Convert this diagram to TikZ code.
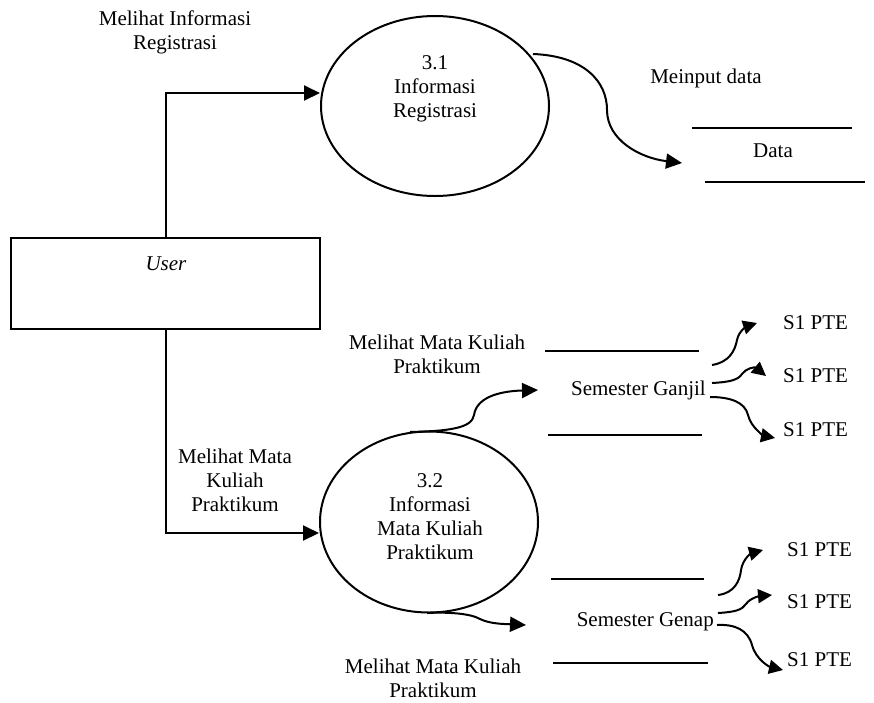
\documentclass[tikz,border=0pt]{standalone}
\usepackage{fontspec}
\setmainfont{Liberation Serif}
\usetikzlibrary{arrows.meta,shapes.geometric}
\begin{document}
\begin{tikzpicture}[x=1pt,y=-1pt,
  every node/.style={font=\fontsize{21}{24}\selectfont, align=center, inner sep=0pt},
  proc/.style={draw, ellipse, line width=2pt},
  ent/.style={draw, rectangle, line width=2pt},
  flow/.style={line width=2pt, -{Triangle[length=16pt,width=15pt]}},
  flowsm/.style={line width=2pt, -{Triangle[length=14pt,width=14pt]}},
  storeline/.style={line width=2pt}]
\useasboundingbox (0,0) rectangle (874,702);

% User entity
\node[ent, minimum width=309pt, minimum height=91pt] (user) at (165.5,283.5) {};
\node (usert) at (166,264) {\itshape User};

% Process 3.1
\node[proc, minimum width=228pt, minimum height=180pt] (p31) at (435,106) {};
\node (p31t) at (435,89) {3.1\\Informasi\\Registrasi};

% Process 3.2
\node[proc, minimum width=218pt, minimum height=181pt] (p32) at (429,522) {};
\node (p32t) at (430,517) {3.2\\Informasi\\Mata Kuliah\\Praktikum};

% Labels
\node (l1) at (175,32) {Melihat Informasi\\Registrasi};
\node (l2) at (706,78) {Meinput data};
\node (l3) at (235,480) {Melihat Mata\\Kuliah\\Praktikum};
\node (l4) at (437,354) {Melihat Mata Kuliah\\Praktikum};
\node (l5) at (433,678) {Melihat Mata Kuliah\\Praktikum};

% Data store
\draw[storeline] (692,128) -- (852,128);
\draw[storeline] (705,182) -- (865,182);
\node (data) at (773,151) {Data};

% Semester Ganjil store
\draw[storeline] (545,351) -- (699,351);
\draw[storeline] (548,435) -- (702,435);
\node[anchor=east] (ganjil) at (706,390) {Semester Ganjil};

% Semester Genap store
\draw[storeline] (551,579) -- (704,579);
\draw[storeline] (553,663) -- (708,663);
\node[anchor=east] (genap) at (714,622) {Semester Genap};

% S1 PTE labels
\node[anchor=west] (g1) at (783,323) {S1 PTE};
\node[anchor=west] (g2) at (783,376) {S1 PTE};
\node[anchor=west] (g3) at (783,430) {S1 PTE};
\node[anchor=west] (n1) at (787,550) {S1 PTE};
\node[anchor=west] (n2) at (787,602) {S1 PTE};
\node[anchor=west] (n3) at (787,660) {S1 PTE};

% User -> 3.1
\draw[flow] (user.north) |- (p31.west |- 0,93);
% User -> 3.2
\draw[flow] (user.south) |- (p32.west |- 0,533);

% 3.1 -> Data
\coordinate (s31) at (533,54);
\coordinate (e31) at (682,163);
\draw[flow] (s31) .. controls (585,56) and (607,82) .. (607,110)
  .. controls (607,140) and (640,158) .. (e31);

% 3.2 -> Ganjil
\coordinate (s32a) at (410,432);
\coordinate (e32a) at (538,390);
\draw[flow] (s32a) .. controls (450,431) and (472,428) .. (474,415)
  .. controls (477,395) and (505,391) .. (e32a);

% 3.2 -> Genap
\coordinate (s32b) at (427,613);
\coordinate (e32b) at (526,625);
\draw[flow] (s32b) .. controls (445,612) and (470,613) .. (480,619)
  .. controls (490,624) and (505,624) .. (e32b);

% Ganjil -> S1 PTE
\coordinate (ga1) at (712,365);
\coordinate (ga2) at (712,383);
\coordinate (ga3) at (710,397);
\draw[flowsm] (ga1) .. controls (730,362) and (735,350) .. (737,340)
  .. controls (739,330) and (748,326) .. ([xshift=-26pt]g1.west);
\draw[flowsm] (ga2) .. controls (730,382) and (738,380) .. (742,374)
  .. controls (746,368) and (755,367) .. ([xshift=-17pt]g2.west);
\draw[flowsm] (ga3) .. controls (730,397) and (745,402) .. (748,415)
  .. controls (751,428) and (765,436) .. ([xshift=-8pt]g3.west |- 0,438);

% Genap -> S1 PTE
\coordinate (ge1) at (718,595);
\coordinate (ge2) at (718,613);
\coordinate (ge3) at (717,625);
\draw[flowsm] (ge1) .. controls (735,593) and (740,580) .. (741,570)
  .. controls (743,558) and (752,553) .. ([xshift=-24pt]n1.west);
\draw[flowsm] (ge2) .. controls (735,612) and (742,610) .. (746,604)
  .. controls (750,598) and (760,596) .. ([xshift=-15pt]n2.west |- 0,595);
\draw[flowsm] (ge3) .. controls (735,624) and (748,630) .. (752,645)
  .. controls (756,660) and (770,667) .. ([xshift=-4pt]n3.west |- 0,670);
\end{tikzpicture}
\end{document}
